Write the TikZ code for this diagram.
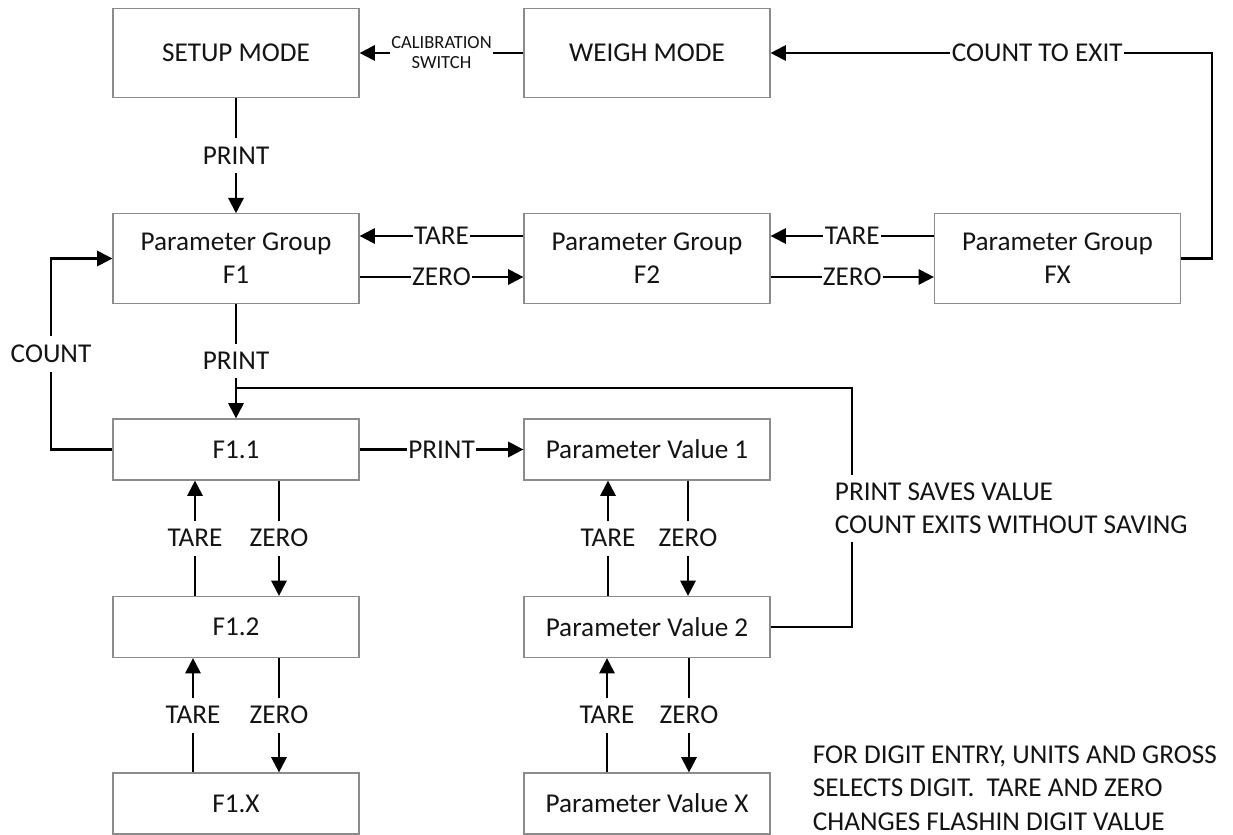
\documentclass[tikz,border=0pt]{standalone}
\usepackage{fontspec}
\setmainfont{Carlito}
\usetikzlibrary{arrows.meta,calc}
\newcommand\diagfont{\fontsize{20.4}{25}\selectfont}
\newcommand\smallfont{\fontsize{13.9}{15}\selectfont}
\begin{document}
\begin{tikzpicture}[x=0.75pt,y=-0.75pt,
  box/.style={draw=black!45, line width=0.9pt, fill=white, minimum width=184.5pt,
    inner sep=0pt, align=center, font=\diagfont, text=black!92},
  tallbox/.style={box, minimum height=67pt},
  flatbox/.style={box, minimum height=45.75pt},
  wire/.style={line width=1.7pt, black},
  flow/.style={wire, -{Triangle[length=11.5pt,width=11.5pt]}},
  lab/.style={fill=white, inner xsep=1pt, inner ysep=6.5pt, font=\diagfont, text=black!92},
  note/.style={align=left, font=\diagfont, text=black!92, inner xsep=2pt, inner ysep=6pt}]

\useasboundingbox (0,0) rectangle (1233,835);

% mode boxes
\node[tallbox] (setup) at (236,53) {SETUP MODE};
\node[tallbox] (weigh) at (647,53) {WEIGH MODE};

% parameter groups
\node[tallbox] (pg1) at (236,258.5) {Parameter Group\\F1};
\node[tallbox] (pg2) at (647,258.5) {Parameter Group\\F2};
\node[tallbox] (pgx) at (1057.5,258.5) {Parameter Group\\FX};

% parameters of group F1
\node[flatbox] (f11) at (236,449.5) {F1.1};
\node[flatbox] (f12) at (236,627) {F1.2};
\node[flatbox] (f1x) at (236,803.5) {F1.X};

% parameter values
\node[flatbox] (pv1) at (647,449.5) {Parameter Value 1};
\node[flatbox] (pv2) at (647,627) {Parameter Value 2};
\node[flatbox] (pvx) at (647,803.5) {Parameter Value X};

% helper points for routed lines
\coordinate (exitc) at (1212,53);
\coordinate (cntc) at (51,258.5);
\coordinate (cntb) at (51,449.5);
\coordinate (savb) at (852,627);
\coordinate (savt) at (852,388);
\coordinate (savj) at (236,388);

% top row
\draw[flow] (weigh.west) -- node[lab, inner ysep=1pt, font=\smallfont, align=center]{CALIBRATION\\SWITCH} (setup.east);
\draw[flow] (pgx.east) -| (exitc) -- node[lab, pos=0.396]{COUNT TO EXIT} (weigh.east);
\draw[flow] (setup.south) -- node[lab]{PRINT} (pg1.north);

% group navigation
\draw[flow] ($(pg2.west)+(0,-22.5)$) -- node[lab]{TARE} ($(pg1.east)+(0,-22.5)$);
\draw[flow] ($(pg1.east)+(0,18.5)$) -- node[lab]{ZERO} ($(pg2.west)+(0,18.5)$);
\draw[flow] ($(pgx.west)+(0,-22.5)$) -- node[lab]{TARE} ($(pg2.east)+(0,-22.5)$);
\draw[flow] ($(pg2.east)+(0,18.5)$) -- node[lab]{ZERO} ($(pgx.west)+(0,18.5)$);

% into the parameter list
\draw[flow] (pg1.south) -- node[lab]{PRINT} (f11.north);
\draw[flow] (f11.west) -- (cntb) -- node[lab]{COUNT} (cntc) -- (pg1.west);
\draw[flow] (f11.east) -- node[lab]{PRINT} (pv1.west);

% return from the value list
\draw[wire] (pv2.east) -- (savb) -- (savt) -- (savj);
\node[note, fill=white, anchor=west] (savenote) at (832,508.5) {PRINT SAVES VALUE\\COUNT EXITS WITHOUT SAVING};

% parameter list stepping
\draw[flow] ($(f12.north)+(-41,0)$) -- node[lab]{TARE} ($(f11.south)+(-41,0)$);
\draw[flow] ($(f11.south)+(43,0)$) -- node[lab]{ZERO} ($(f12.north)+(43,0)$);
\draw[flow] ($(f1x.north)+(-43,0)$) -- node[lab]{TARE} ($(f12.south)+(-43,0)$);
\draw[flow] ($(f12.south)+(43,0)$) -- node[lab]{ZERO} ($(f1x.north)+(43,0)$);

% value stepping
\draw[flow] ($(pv2.north)+(-39,0)$) -- node[lab]{TARE} ($(pv1.south)+(-39,0)$);
\draw[flow] ($(pv1.south)+(41,0)$) -- node[lab]{ZERO} ($(pv2.north)+(41,0)$);
\draw[flow] ($(pvx.north)+(-40,0)$) -- node[lab]{TARE} ($(pv2.south)+(-40,0)$);
\draw[flow] ($(pv2.south)+(42,0)$) -- node[lab]{ZERO} ($(pvx.north)+(42,0)$);

% digit entry note
\node[note, anchor=west, text depth=0pt] (digitnote) at (810,788) {FOR DIGIT ENTRY, UNITS AND GROSS\\SELECTS DIGIT.~~TARE AND ZERO\\CHANGES FLASHIN DIGIT VALUE};
\end{tikzpicture}
\end{document}
